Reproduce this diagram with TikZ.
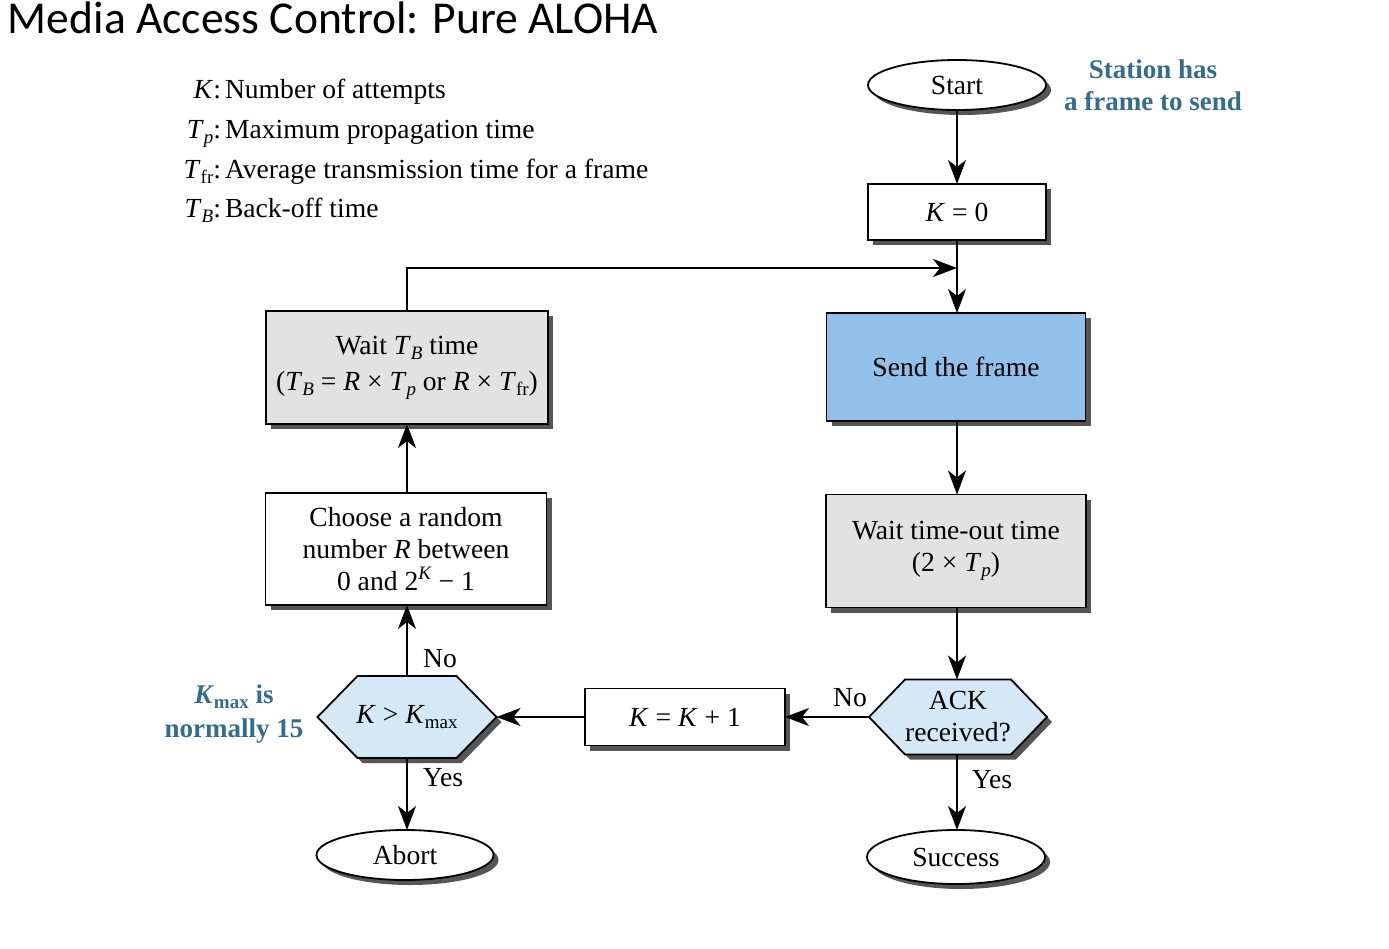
\documentclass[tikz,border=0pt]{standalone}
\usepackage{fontspec}
\setmainfont{Liberation Serif}
\newfontfamily\titlefont{Carlito}
\usetikzlibrary{arrows.meta,shadows,shapes.geometric,backgrounds}
\definecolor{tealtxt}{RGB}{52,108,140}
\definecolor{sendblue}{RGB}{145,192,235}
\definecolor{boxgray}{RGB}{226,226,226}
\definecolor{hexblue}{RGB}{212,232,246}
\definecolor{shadowgray}{RGB}{85,85,85}
\newcommand{\vi}[1]{\textit{#1}}
\newcommand{\sbs}[1]{\raisebox{-0.4ex}{\fontsize{9.5}{10}\selectfont #1}}
\newcommand{\sps}[1]{\raisebox{0.9ex}{\fontsize{9.5}{10}\selectfont #1}}
\begin{document}
\begin{tikzpicture}[x=0.5pt,y=-0.5pt,
  every node/.style={font=\fontsize{13.8}{16}\selectfont, inner sep=0pt, outer sep=0pt},
  shad/.style={drop shadow={shadow xshift=2.5pt,shadow yshift=-2.5pt,fill=shadowgray,opacity=1}},
  procbox/.style={rectangle,draw=black,line width=0.9pt,fill=white,shad,align=center},
  term/.style={ellipse,draw=black,line width=0.9pt,fill=white,shad},
  hexbg/.style={draw=black,line width=0.9pt,fill=hexblue,shad},
  arrow/.style={-{Stealth[length=12pt,width=9pt,inset=3.5pt]},line width=1.1pt},
  note/.style={text=tealtxt,font=\bfseries\fontsize{13.5}{16}\selectfont,align=center},
  yn/.style={font=\fontsize{13.8}{16}\selectfont}]
\begin{scope}[on background layer]
\fill[white] (0,0) rectangle (1389,949);
\end{scope}
\useasboundingbox (0,0) rectangle (1389,949);

% title
\node[anchor=base west,font=\titlefont\fontsize{22.8}{26}\selectfont] (title) at (8,33) {Media Access Control: Pure ALOHA};

% legend
\node[anchor=base east] (l1a) at (221,98) {\vi{K}:};
\node[anchor=base west] (l1b) at (225,98) {Number of attempts};
\node[anchor=base east] (l2a) at (221,138) {\vi{T}\sbs{\vi{p}}:};
\node[anchor=base west] (l2b) at (225,138) {Maximum propagation time};
\node[anchor=base east] (l3a) at (221,178) {\vi{T}\sbs{fr}:};
\node[anchor=base west] (l3b) at (225,178) {Average transmission time for a frame};
\node[anchor=base east] (l4a) at (221,217) {\vi{T}\sbs{\vi{B}}:};
\node[anchor=base west] (l4b) at (225,217) {Back-off time};

% right column
\node[term,minimum width=89pt,minimum height=25pt] (start) at (957,85) {Start};
\node[note] (station) at (1153,85) {Station has\\a frame to send};
\node[procbox,minimum width=89pt,minimum height=28pt] (k0) at (957,212) {\vi{K} = 0};
\node[procbox,fill=sendblue,minimum width=129.5pt,minimum height=54pt] (send) at (956,367) {Send the frame};
\node[procbox,fill=boxgray,minimum width=130pt,minimum height=56.5pt] (waitto) at (956,551) {Wait time-out time\\(2 × \vi{T}\sbs{\vi{p}})};
\node[rectangle,minimum width=89pt,minimum height=37.5pt,align=center] (ack) at (958,717) {ACK\\received?};
\node[term,minimum width=89pt,minimum height=27pt] (succ) at (956,857) {Success};

% middle
\node[procbox,minimum width=100pt,minimum height=28.5pt] (kinc) at (685,717) {\vi{K} = \vi{K} + 1};

% left column
\node[procbox,fill=boxgray,minimum width=141pt,minimum height=56.5pt] (waitb) at (407,367.5) {Wait \vi{T}\sbs{\vi{B}} time\\[2pt](\vi{T}\sbs{\vi{B}} = \vi{R} × \vi{T}\sbs{\vi{p}} or \vi{R} × \vi{T}\sbs{fr})};
\node[procbox,minimum width=140.5pt,minimum height=56pt] (choose) at (406,549) {Choose a random\\number \vi{R} between\\0 and 2\sps{\vi{K}} − 1};
\node[rectangle,minimum width=89.5pt,minimum height=41pt] (kmax) at (407,717) {\vi{K} > \vi{K}\sbs{max}};
\node[note] (kmaxnote) at (234,714) {\vi{K}\sbs{max} is\\[1pt]normally 15};
\node[term,minimum width=88.5pt,minimum height=25pt] (abort) at (405,855) {Abort};

% hexagons on background
\begin{scope}[on background layer]
\path[hexbg] (ack.west) -- ([xshift=18pt]ack.north west) -- ([xshift=-18pt]ack.north east) -- (ack.east) -- ([xshift=-18pt]ack.south east) -- ([xshift=18pt]ack.south west) -- cycle;
\path[hexbg] (kmax.west) -- ([xshift=20pt]kmax.north west) -- ([xshift=-20pt]kmax.north east) -- (kmax.east) -- ([xshift=-20pt]kmax.south east) -- ([xshift=20pt]kmax.south west) -- cycle;
\end{scope}

% connectors
\coordinate (join) at (957,268);
\draw[arrow] (start.south) -- (k0.north);
\draw[line width=1.1pt] (k0.south) -- (join);
\draw[arrow] (waitb.north -| kmax.north) |- (join);
\draw[arrow] (join) -- (send.north -| join);
\draw[arrow] (send.south -| join) -- (waitto.north -| join);
\draw[arrow] (waitto.south -| join) -- (ack.north -| join);
\draw[arrow] (ack.south -| join) -- (succ.north -| join);
\draw[arrow] (ack.west) -- (kinc.east);
\draw[arrow] (kinc.west) -- (kmax.east);
\draw[arrow] (kmax.north) -- (choose.south -| kmax.north);
\draw[arrow] (kmax.south) -- (abort.north -| kmax.south);
\draw[arrow] (choose.north -| kmax.north) -- (waitb.south -| kmax.north);

% branch labels
\node[yn] (no1) at (440,659) {No};
\node[yn] (yes1) at (443,778) {Yes};
\node[yn] (no2) at (850,698) {No};
\node[yn] (yes2) at (992,780) {Yes};
\end{tikzpicture}
\end{document}
